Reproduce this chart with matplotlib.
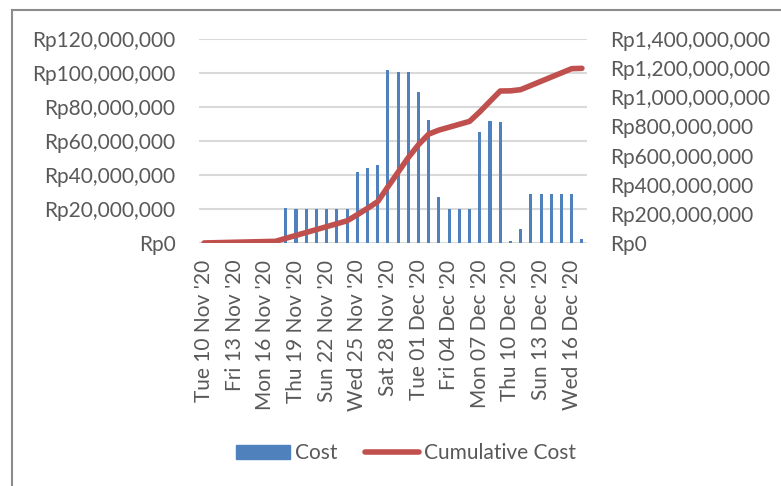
import numpy as np
import pandas as pd
import matplotlib
matplotlib.use("Agg")
import matplotlib.pyplot as plt
from matplotlib.lines import Line2D
from matplotlib.patches import Patch
from matplotlib.ticker import FuncFormatter, MultipleLocator

plt.rcParams["font.family"] = ["Lato", "DejaVu Sans"]
FS = 15

# daily project cost, 10 Nov - 17 Dec 2020 (in millions of rupiah)
dates = pd.date_range("2020-11-10", "2020-12-17", freq="D")
cost_m = [
    0.4, 1.6, 1.6, 1.6, 1.6, 1.6, 1.6, 1.6,          # 10-17 Nov
    20.6, 20.0, 20.0, 20.0, 20.0, 20.0, 20.0,        # 18-24 Nov
    41.6, 43.9, 46.1,                                # 25-27 Nov
    101.8, 100.4, 100.4, 88.6, 72.4,                 # 28 Nov - 02 Dec
    27.3, 20.0, 20.0, 20.0,                          # 03-06 Dec
    65.5, 71.8, 71.0,                                # 07-09 Dec
    1.0, 8.2,                                        # 10-11 Dec
    28.8, 28.8, 28.8, 28.8, 28.8,                    # 12-16 Dec
    2.4,                                             # 17 Dec
]
cost = np.array(cost_m) * 1e6
cumulative = np.cumsum(cost)
tick_labels = [d.strftime("%a %d %b '%y") for d in dates]

BLUE = "#4F81BD"
RED = "#C0504D"
GRID = "#D9D9D9"
TEXT = "#595959"

fig = plt.figure(figsize=(7.81, 4.86), dpi=100)
ax = fig.add_axes([0.2548, 0.5, 0.4968, 0.4198])
ax2 = ax.twinx()

x = np.arange(len(dates))
ax.bar(x, cost, width=0.3, color=BLUE, zorder=2)
ax2.plot(x, cumulative, color=RED, lw=4, solid_capstyle="round", zorder=3)

ax.set_xlim(-0.5, len(dates) - 0.5)
ax.set_ylim(0, 120e6)
ax2.set_ylim(0, 1400e6)
ax.yaxis.set_major_locator(MultipleLocator(20e6))
ax2.yaxis.set_major_locator(MultipleLocator(200e6))

rp = FuncFormatter(lambda v, _: f"Rp{v:,.0f}")
ax.yaxis.set_major_formatter(rp)
ax2.yaxis.set_major_formatter(rp)

ax.set_xticks(x[::3])
ax.set_xticklabels(tick_labels[::3], rotation=90)

ax.grid(axis="y", color=GRID, lw=1.5, zorder=0)
ax.set_axisbelow(True)
ax.set_zorder(ax2.get_zorder() - 1)
ax.patch.set_visible(False)

for a in (ax, ax2):
    for s in a.spines.values():
        s.set_visible(False)
    a.tick_params(length=0, colors=TEXT, labelsize=FS)
ax.tick_params(axis="y", pad=17)
ax2.tick_params(axis="y", pad=16.5)
ax.tick_params(axis="x", pad=12)

handles = [Patch(color=BLUE, label="Cost"),
           Line2D([], [], color=RED, lw=4, solid_capstyle="round",
                  label="Cumulative Cost")]
fig.legend(handles=handles, loc="center", bbox_to_anchor=(0.52, 1 - 453 / 486),
           ncol=2, frameon=False, handlelength=2.6, handleheight=0.67,
           handletextpad=0.25, columnspacing=1.3, labelcolor=TEXT, fontsize=FS)

# chart area border
fig.add_artist(Line2D([12 / 781, 1], [1 - 10 / 486, 1 - 10 / 486],
                      color="#8C8C8C", lw=1.5, transform=fig.transFigure))
fig.add_artist(Line2D([12 / 781, 12 / 781], [0, 1 - 10 / 486],
                      color="#8C8C8C", lw=1.5, transform=fig.transFigure))

fig.savefig("out.png", dpi=100)
